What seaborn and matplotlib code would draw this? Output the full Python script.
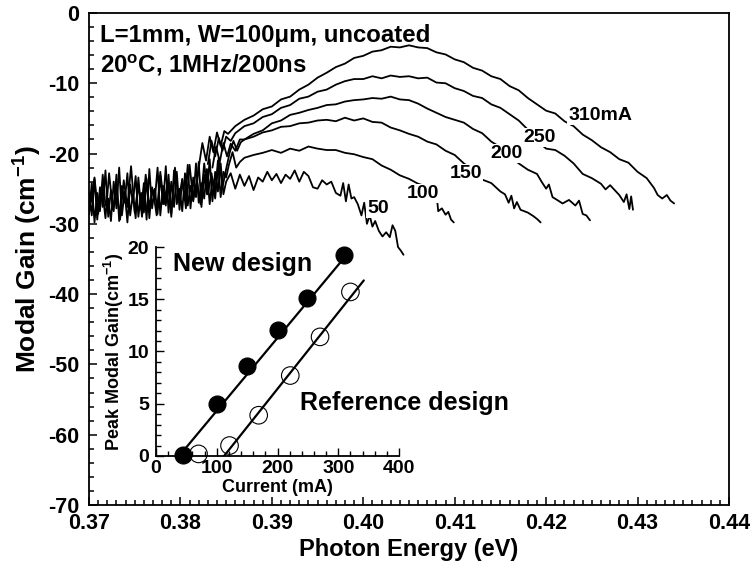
import numpy as np
import pandas as pd
import matplotlib
matplotlib.use("Agg")
import matplotlib.pyplot as plt
import seaborn as sns
from matplotlib.ticker import MultipleLocator, FormatStrFormatter

sns.set_style("ticks")
REG = ["Liberation Sans", "DejaVu Sans"]
plt.rcParams["font.family"] = REG
plt.rcParams["font.weight"] = "bold"
plt.rcParams["mathtext.default"] = "regular"
plt.rcParams["axes.unicode_minus"] = False
plt.rcParams["text.color"] = "black"
plt.rcParams["axes.labelcolor"] = "black"
plt.rcParams["xtick.color"] = "black"
plt.rcParams["ytick.color"] = "black"

# ---------------- main spectra (photon energy eV, modal gain cm^-1) -------------
noise_x = [0.3700, 0.3703, 0.3706, 0.3709, 0.3712, 0.3715, 0.3718, 0.3721, 0.3724, 0.3727,
           0.3730, 0.3733, 0.3736, 0.3739, 0.3742, 0.3745, 0.3748, 0.3751, 0.3754, 0.3757,
           0.3760, 0.3763, 0.3766, 0.3769, 0.3772, 0.3775, 0.3778, 0.3781, 0.3784, 0.3787,
           0.3790, 0.3793, 0.3796, 0.3799, 0.3802, 0.3805, 0.3808, 0.3811, 0.3814, 0.3817,
           0.3820, 0.3823, 0.3826, 0.3829, 0.3832, 0.3835, 0.3838, 0.3841, 0.3844, 0.3847,
           0.3850]
noise_x2 = [0.3702, 0.3706, 0.3710, 0.3714, 0.3718, 0.3722, 0.3726, 0.3730, 0.3734, 0.3738,
            0.3742, 0.3746, 0.3750, 0.3754, 0.3758, 0.3762, 0.3766, 0.3770, 0.3774, 0.3778,
            0.3782, 0.3786, 0.3790, 0.3794, 0.3798, 0.3802, 0.3806, 0.3810, 0.3814, 0.3818,
            0.3822, 0.3826, 0.3830, 0.3834, 0.3838, 0.3842, 0.3846, 0.3850]
noise_50 = [-25.5, -28.8, -23.6, -29.4, -24.8, -27.6, -22.4, -29.0, -25.2, -28.2,
            -23.0, -29.6, -24.6, -27.0, -22.8, -28.8, -25.8, -29.2, -23.4, -28.0,
            -24.2, -29.4, -22.2, -27.8, -25.0, -28.6, -23.2, -27.2, -21.8, -28.4,
            -24.0, -27.6, -22.6, -28.0, -23.8, -26.6, -21.6, -27.8, -23.4, -26.2,
            -21.2, -27.6, -23.0, -25.8, -20.8, -26.8, -22.6, -25.4, -21.4, -25.8,
            -24.0]
noise_100 = [-28.6, -24.2, -29.8, -25.6, -28.2, -23.0, -27.4, -26.4, -29.6, -24.0,
             -27.8, -22.0, -28.8, -25.4, -29.8, -24.4, -27.0, -23.2, -29.0, -25.6,
             -28.4, -23.6, -29.2, -24.8, -26.6, -22.0, -28.8, -24.6, -27.4, -23.0,
             -29.0, -22.4, -27.2, -25.0, -28.2, -22.8, -27.4, -24.6, -26.8, -21.4,
             -27.0, -24.2, -26.4, -22.2, -27.2, -23.6, -25.6, -21.0, -26.2, -22.6,
             -23.4]
noise_150 = [-27.0, -23.4, -28.6, -24.6, -29.2, -22.8, -28.0, -25.0, -29.4, -23.8,
             -27.6, -21.8, -28.4, -24.4, -29.0, -23.0, -27.4, -25.2, -28.8, -22.6,
             -27.2, -24.0, -28.6, -22.0, -26.8, -23.6, -27.8, -21.6, -26.6, -23.8,
             -27.2, -21.4, -25.8, -22.8, -26.4, -20.6, -24.8, -22.2]

e50 = [0.3855, 0.3860, 0.3865, 0.3870, 0.3875, 0.3880, 0.3885, 0.3890, 0.3895, 0.3900,
       0.3905, 0.3910, 0.3915, 0.3920, 0.3925, 0.3930, 0.3935, 0.3940, 0.3945, 0.3950,
       0.3955, 0.3960, 0.3965, 0.3970, 0.3975, 0.3978, 0.3981, 0.3984, 0.3987, 0.3990,
       0.3994, 0.3998, 0.4001, 0.4004, 0.4007, 0.4010, 0.4013, 0.4017, 0.4021, 0.4025,
       0.4029, 0.4032, 0.4035, 0.4038, 0.4041, 0.4044]
g50 = [-22.8, -25.0, -23.0, -24.6, -23.2, -25.2, -23.4, -24.0, -22.6, -23.8,
       -22.9, -24.2, -23.0, -23.6, -22.4, -24.0, -22.6, -23.2, -24.8, -25.0,
       -23.8, -24.4, -24.0, -25.6, -26.0, -24.2, -26.8, -24.4, -26.4, -26.2,
       -27.2, -28.8, -27.0, -30.0, -28.8, -30.4, -29.6, -31.0, -31.8, -31.2,
       -31.9, -30.2, -31.0, -33.3, -33.8, -34.4]

e100 = [0.3853, 0.3857, 0.3861, 0.3865, 0.3870, 0.3880, 0.3890, 0.3900, 0.3910, 0.3920,
        0.3930, 0.3940, 0.3950, 0.3960, 0.3970, 0.3980, 0.3990, 0.4000, 0.4010, 0.4020,
        0.4030, 0.4040, 0.4050, 0.4060, 0.4070, 0.4080, 0.4082, 0.4086, 0.4090, 0.4093,
        0.4096, 0.4099]
g100 = [-21.6, -19.8, -22.0, -21.2, -20.6, -20.2, -19.9, -19.5, -19.9, -19.3,
        -19.6, -19.0, -19.3, -19.5, -19.5, -19.9, -20.1, -20.5, -20.8, -21.7,
        -22.3, -23.1, -23.6, -24.3, -24.7, -25.7, -28.2, -27.8, -28.7, -28.3,
        -29.4, -29.8]

e150 = [0.3854, 0.3858, 0.3862, 0.3866, 0.3870, 0.3880, 0.3890, 0.3900, 0.3910, 0.3920,
        0.3930, 0.3940, 0.3950, 0.3960, 0.3970, 0.3980, 0.3990, 0.4000, 0.4010, 0.4020,
        0.4030, 0.4040, 0.4050, 0.4060, 0.4070, 0.4080, 0.4090, 0.4100, 0.4110, 0.4120,
        0.4130, 0.4140, 0.4150, 0.4155, 0.4159, 0.4162, 0.4165, 0.4168, 0.4172, 0.4180,
        0.4186, 0.4190, 0.4194]
g150 = [-19.8, -18.2, -19.6, -18.4, -18.0, -17.6, -17.0, -16.7, -16.2, -16.1,
        -15.7, -15.6, -15.3, -15.2, -15.4, -14.9, -15.3, -15.0, -15.5, -15.6,
        -16.3, -16.7, -17.2, -17.6, -18.3, -18.7, -19.6, -20.2, -21.4, -22.3,
        -23.7, -24.2, -25.4, -25.8, -27.0, -26.0, -27.8, -26.9, -28.0, -28.4,
        -28.9, -29.3, -29.8]

e200 = [0.3835, 0.3839, 0.3843, 0.3847, 0.3851, 0.3855, 0.3860, 0.3865, 0.3870, 0.3880,
        0.3890, 0.3900, 0.3910, 0.3920, 0.3930, 0.3940, 0.3950, 0.3960, 0.3970, 0.3980,
        0.3990, 0.4000, 0.4010, 0.4020, 0.4030, 0.4040, 0.4050, 0.4060, 0.4070, 0.4080,
        0.4090, 0.4100, 0.4110, 0.4120, 0.4130, 0.4140, 0.4150, 0.4160, 0.4170, 0.4180,
        0.4190, 0.4195, 0.4200, 0.4203, 0.4207, 0.4212, 0.4218, 0.4225, 0.4232, 0.4236,
        0.4240, 0.4244, 0.4248]
g200 = [-22.0, -19.0, -21.2, -18.5, -20.4, -18.6, -19.6, -18.0, -18.0, -17.2,
        -16.7, -15.7, -15.3, -14.5, -14.2, -13.8, -13.5, -13.1, -13.0, -12.6,
        -12.4, -12.3, -12.1, -12.2, -11.9, -12.3, -12.4, -12.9, -13.6, -14.2,
        -14.8, -15.2, -15.6, -16.5, -17.1, -18.3, -19.1, -20.4, -21.4, -22.3,
        -22.9, -24.0, -25.0, -24.4, -26.2, -26.6, -27.1, -26.6, -27.4, -26.7,
        -28.6, -28.8, -29.5]

e250 = [0.3830, 0.3834, 0.3838, 0.3842, 0.3846, 0.3850, 0.3855, 0.3860, 0.3870, 0.3880,
        0.3890, 0.3900, 0.3910, 0.3920, 0.3930, 0.3940, 0.3950, 0.3960, 0.3970, 0.3980,
        0.3990, 0.4000, 0.4010, 0.4020, 0.4030, 0.4040, 0.4050, 0.4060, 0.4070, 0.4080,
        0.4090, 0.4100, 0.4110, 0.4120, 0.4130, 0.4140, 0.4150, 0.4160, 0.4170, 0.4180,
        0.4190, 0.4200, 0.4210, 0.4220, 0.4230, 0.4240, 0.4250, 0.4260, 0.4265, 0.4270,
        0.4280, 0.4285, 0.4288, 0.4291, 0.4293, 0.4295]
g250 = [-21.5, -18.2, -20.4, -17.8, -19.6, -17.6, -18.2, -17.1, -16.1, -15.7,
        -14.8, -14.4, -13.5, -13.1, -12.2, -11.9, -11.2, -10.9, -10.2, -9.7,
        -9.4, -9.4, -9.0, -9.3, -8.9, -9.1, -9.0, -9.3, -9.2, -9.9,
        -10.0, -10.7, -11.1, -11.8, -12.1, -13.0, -13.5, -14.4, -15.3, -16.6,
        -18.2, -19.3, -19.5, -20.3, -21.4, -22.9, -23.5, -24.3, -25.1, -24.5,
        -25.9, -26.9, -25.8, -27.9, -26.1, -28.0]

e310 = [0.3820, 0.3824, 0.3828, 0.3832, 0.3836, 0.3840, 0.3844, 0.3848, 0.3852, 0.3860,
        0.3870, 0.3880, 0.3890, 0.3900, 0.3910, 0.3920, 0.3930, 0.3940, 0.3950, 0.3960,
        0.3970, 0.3980, 0.3990, 0.4000, 0.4010, 0.4020, 0.4030, 0.4040, 0.4050, 0.4060,
        0.4070, 0.4080, 0.4090, 0.4100, 0.4110, 0.4120, 0.4130, 0.4140, 0.4150, 0.4160,
        0.4170, 0.4180, 0.4190, 0.4200, 0.4210, 0.4220, 0.4230, 0.4240, 0.4250, 0.4260,
        0.4270, 0.4280, 0.4290, 0.4300, 0.4310, 0.4318, 0.4322, 0.4327, 0.4332, 0.4336,
        0.4340]
g310 = [-22.0, -18.5, -21.0, -17.6, -19.8, -17.0, -18.9, -16.8, -17.2, -16.1,
        -15.2, -14.6, -13.7, -13.3, -12.3, -11.9, -10.9, -10.2, -9.2, -8.5,
        -7.7, -7.2, -6.4, -6.1, -5.5, -5.3, -4.8, -4.9, -4.6, -4.9,
        -5.0, -5.6, -5.9, -6.6, -7.0, -7.8, -8.2, -9.0, -9.4, -10.4,
        -11.0, -12.1, -13.0, -13.9, -14.3, -15.4, -16.1, -17.3, -18.1, -19.1,
        -19.8, -20.8, -21.3, -22.6, -23.5, -24.9, -25.9, -26.4, -25.9, -26.7,
        -27.1]

curve_labels = ["310mA", "250", "200", "150", "100", "50"]
label_x = [0.4224, 0.4175, 0.4139, 0.4095, 0.4048, 0.4004]
label_y = [-14.6, -17.7, -20.0, -22.8, -25.7, -27.8]

# ---------------- inset: peak modal gain vs current -------------
cur_new = [45, 100, 150, 200, 248, 310]
gain_new = [0.1, 5.0, 8.6, 12.1, 15.1, 19.2]
cur_ref = [70, 121, 169, 221, 270, 320]
gain_ref = [0.2, 1.0, 3.9, 7.7, 11.4, 15.7]
fit_new_x = [38, 316]
fit_new_y = [0.0, 19.4]
fit_ref_x = [112, 342]
fit_ref_y = [0.0, 16.8]

# ---------------- figure -------------
fig = plt.figure(figsize=(7.53, 5.69), dpi=100)
ax = fig.add_axes([0.1182, 0.1125, 0.8499, 0.8647])

curves = [
    (noise_x + e50, noise_50 + g50),
    (noise_x + e100, noise_100 + g100),
    (noise_x2 + e150, noise_150 + g150),
    (e200, g200),
    (e250, g250),
    (e310, g310),
]
for xs, ys in curves:
    sns.lineplot(x=xs, y=ys, ax=ax, color="black", lw=1.3, sort=False,
                 estimator=None, legend=False)

for t, x, y in zip(curve_labels, label_x, label_y):
    ax.text(x, y, t, fontsize=14, fontweight="bold", family=REG, ha="left",
            va="center", zorder=5, color="black",
            bbox=dict(facecolor="white", edgecolor="none", pad=0.5))

ax.text(0.3712, -4.1, "L=1mm, W=100\u03bcm, uncoated", fontsize=17.3,
        fontweight="bold", family=REG, ha="left", va="baseline", color="black")
ax.text(0.3712, -8.4, "20$^{o}$C, 1MHz/200ns", fontsize=17.3,
        fontweight="bold", family=REG, ha="left", va="baseline", color="black")

ax.set_xlim(0.37, 0.44)
ax.set_ylim(-70, 0)
ax.xaxis.set_major_locator(MultipleLocator(0.01))
ax.xaxis.set_minor_locator(MultipleLocator(0.001))
ax.xaxis.set_major_formatter(FormatStrFormatter("%.2f"))
ax.yaxis.set_major_locator(MultipleLocator(10))
ax.yaxis.set_minor_locator(MultipleLocator(2))
ax.tick_params(which="both", direction="in", top=False, right=False,
               width=1.1, colors="black")
ax.tick_params(which="major", length=6)
ax.tick_params(which="minor", length=3.5)
ax.tick_params(axis="y", which="major", pad=7)
ax.tick_params(axis="x", which="major", pad=6)
for lab in ax.get_xticklabels() + ax.get_yticklabels():
    lab.set_fontsize(15.5)
    lab.set_fontweight("bold")
for s in ax.spines.values():
    s.set_linewidth(1.3)
    s.set_color("black")
ax.set_xlabel("Photon Energy (eV)", fontsize=17, fontweight="bold", labelpad=3,
              color="black")
ax.set_ylabel("Modal Gain (cm$^{-1}$)", fontsize=19, fontweight="bold",
              labelpad=3, color="black")

# ---------------- inset -------------
axi = fig.add_axes([0.2072, 0.1986, 0.3227, 0.3673])
axi.patch.set_alpha(0)
sns.lineplot(x=fit_new_x, y=fit_new_y, ax=axi, color="black", lw=1.6,
             estimator=None, legend=False)
sns.lineplot(x=fit_ref_x, y=fit_ref_y, ax=axi, color="black", lw=1.6,
             estimator=None, legend=False)
sns.scatterplot(x=cur_new, y=gain_new, ax=axi, s=150, color="black",
                edgecolor="black", linewidth=0.8, zorder=4, legend=False,
                clip_on=False)
sns.scatterplot(x=cur_ref, y=gain_ref, ax=axi, s=160, facecolor="none",
                edgecolor="black", linewidth=0.8, zorder=4, legend=False,
                clip_on=False)
axi.set_xlim(0, 400)
axi.set_ylim(0, 20)
axi.xaxis.set_major_locator(MultipleLocator(100))
axi.xaxis.set_minor_locator(MultipleLocator(20))
axi.yaxis.set_major_locator(MultipleLocator(5))
axi.yaxis.set_minor_locator(MultipleLocator(1))
axi.tick_params(which="both", direction="in", top=False, right=False,
                width=1.0, colors="black")
axi.tick_params(which="major", length=6)
axi.tick_params(which="minor", length=3.5)
axi.tick_params(axis="y", which="major", pad=5)
axi.tick_params(axis="x", which="major", pad=3)
for lab in axi.get_xticklabels() + axi.get_yticklabels():
    lab.set_fontsize(14)
    lab.set_fontweight("bold")
axi.spines["top"].set_visible(False)
axi.spines["right"].set_visible(False)
for k in ("left", "bottom"):
    axi.spines[k].set_linewidth(1.3)
    axi.spines[k].set_color("black")
axi.set_xlabel("Current (mA)", fontsize=13, fontweight="bold", labelpad=1,
               color="black")
axi.set_ylabel("Peak Modal Gain(cm$^{-1}$)", fontsize=13, fontweight="bold",
               labelpad=1, color="black")
axi.text(28, 18.4, "New design", fontsize=18, fontweight="bold", family=REG,
         ha="left", va="center", color="black")
axi.text(237, 5.1, "Reference design", fontsize=18, fontweight="bold",
         family=REG, ha="left", va="center", color="black")

fig.savefig("out.png", dpi=100)
